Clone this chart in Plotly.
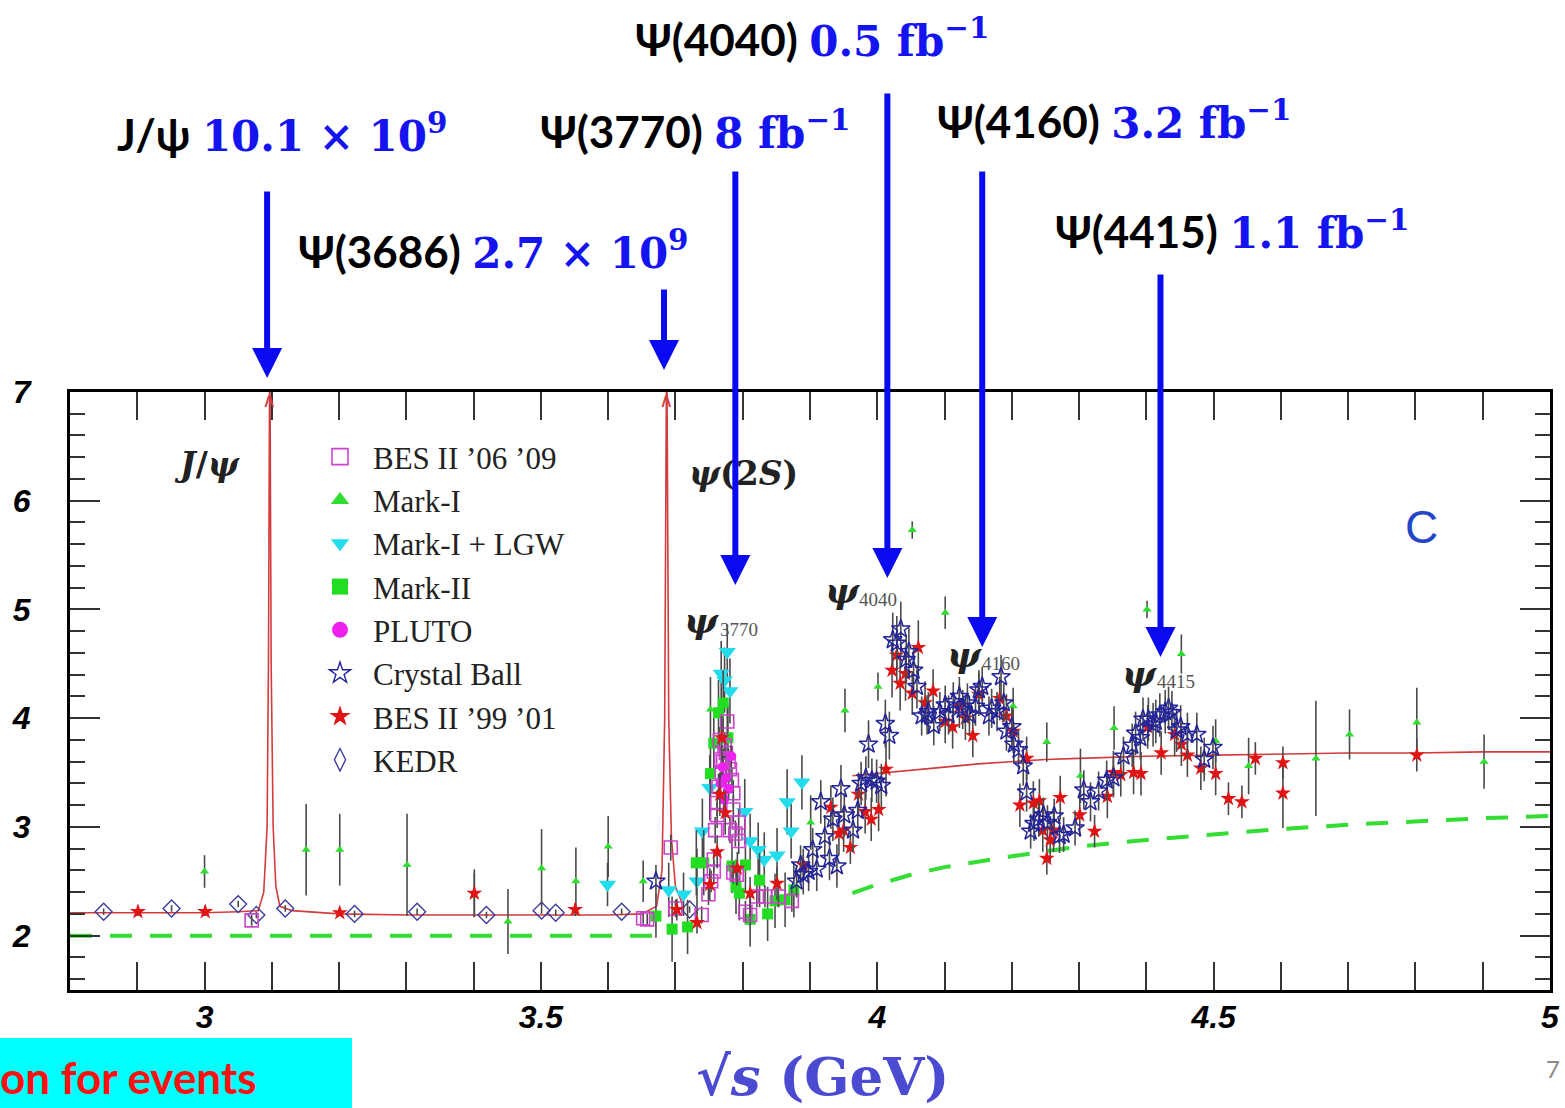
import plotly.graph_objects as go

# ---------------- data ----------------
X_RANGE = [2.8, 5.0]
Y_RANGE = [1.5, 7.0]

# solid red fit curve (None = gap); peaks run off the top of the frame
fit_x = [2.80, 2.90, 3.00, 3.05, 3.080, 3.088, 3.093, 3.095, 3.097, 3.099, 3.102, 3.106, 3.112, 3.13,
         3.20, 3.30, 3.40, 3.50, 3.60, 3.650, 3.672, 3.680, 3.684, 3.687, 3.690, 3.694, 3.700, 3.710,
         None,
         3.963, 4.00, 4.05, 4.10, 4.15, 4.20, 4.25, 4.30, 4.40, 4.50, 4.60, 4.70, 4.80, 4.90, 5.00]
fit_y = [2.21, 2.21, 2.21, 2.22, 2.23, 2.40, 3.00, 4.50, 7.60, 4.50, 3.00, 2.45, 2.27, 2.23,
         2.20, 2.19, 2.19, 2.19, 2.19, 2.20, 2.27, 2.60, 4.00, 7.60, 4.00, 2.90, 2.45, 2.30,
         None,
         3.47, 3.49, 3.52, 3.55, 3.58, 3.60, 3.62, 3.63, 3.65, 3.66, 3.67, 3.68, 3.68, 3.69, 3.69]
# resonances whose peak runs off scale (marked with a caret at the top)
offscale_x = [3.097, 3.687]

# dashed green continuum
bkg_x = [2.80, 3.673, None, 3.963, 4.00, 4.05, 4.10, 4.20, 4.30, 4.40, 4.50, 4.60, 4.70, 4.80, 4.90, 5.00]
bkg_y = [2.00, 2.00, None, 2.39, 2.47, 2.56, 2.63, 2.73, 2.82, 2.88, 2.93, 2.98, 3.02, 3.05, 3.08, 3.10]

# (sqrt(s) GeV, R, error)
bes_0609 = [(3.070, 2.14, 0.05), (3.652, 2.16, 0.05), (3.658, 2.15, 0.05), (3.693, 2.81, 0.12),
            (3.700, 2.25, 0.08), (3.739, 2.19, 0.08), (3.749, 2.38, 0.10), (3.753, 2.50, 0.10),
            (3.757, 2.59, 0.10), (3.757, 2.70, 0.10), (3.759, 2.97, 0.12), (3.762, 3.11, 0.12),
            (3.762, 3.22, 0.12), (3.764, 3.37, 0.12), (3.766, 3.80, 0.12), (3.768, 3.62, 0.12),
            (3.769, 3.50, 0.12), (3.771, 3.60, 0.12), (3.773, 3.75, 0.12), (3.775, 3.68, 0.12),
            (3.777, 3.97, 0.12), (3.779, 3.60, 0.12), (3.781, 3.53, 0.12), (3.781, 2.97, 0.12),
            (3.784, 3.43, 0.12), (3.786, 3.31, 0.12), (3.786, 3.16, 0.12), (3.786, 2.58, 0.10),
            (3.789, 2.94, 0.12), (3.791, 2.56, 0.10), (3.794, 3.04, 0.12), (3.794, 2.87, 0.12),
            (3.804, 2.22, 0.10), (3.811, 2.19, 0.10), (3.821, 2.36, 0.10), (3.833, 2.36, 0.10),
            (3.853, 2.36, 0.10), (3.873, 2.32, 0.10)]

mark1 = [(3.000, 2.59, 0.15), (3.151, 2.79, 0.42), (3.201, 2.79, 0.33), (3.301, 2.65, 0.47),
         (3.401, 2.37, 0.20), (3.451, 2.13, 0.30), (3.501, 2.62, 0.36), (3.552, 2.50, 0.31),
         (3.600, 2.82, 0.28), (3.652, 2.50, 0.19), (3.752, 4.08, 0.30), (3.901, 3.04, 0.25),
         (3.952, 4.07, 0.20), (4.001, 4.29, 0.13), (4.052, 5.73, 0.08), (4.101, 4.97, 0.15),
         (4.202, 4.11, 0.17), (4.252, 3.78, 0.18), (4.302, 3.47, 0.25), (4.352, 3.91, 0.20),
         (4.401, 5.00, 0.08), (4.452, 4.59, 0.18), (4.503, 3.79, 0.20), (4.552, 3.56, 0.26),
         (4.652, 3.63, 0.53), (4.702, 3.85, 0.23), (4.802, 3.96, 0.32), (4.902, 3.60, 0.25)]

mark1_lgw = [(3.599, 2.47, 0.20), (3.690, 2.42, 0.25), (3.712, 2.38, 0.20), (3.732, 2.50, 0.30),
             (3.740, 2.96, 0.30), (3.751, 3.36, 0.30), (3.768, 4.41, 0.30), (3.773, 4.35, 0.30),
             (3.777, 4.61, 0.25), (3.781, 4.25, 0.30), (3.803, 3.14, 0.30), (3.811, 2.87, 0.25),
             (3.823, 2.79, 0.25), (3.832, 2.70, 0.25), (3.851, 2.74, 0.25), (3.866, 3.23, 0.30),
             (3.872, 2.96, 0.25), (3.888, 3.41, 0.25)]

mark2 = [(3.671, 2.18, 0.20), (3.695, 2.06, 0.30), (3.718, 2.08, 0.25), (3.731, 2.67, 0.30),
         (3.742, 2.67, 0.30), (3.752, 3.49, 0.30), (3.757, 3.77, 0.30), (3.764, 4.05, 0.30),
         (3.771, 4.14, 0.30), (3.778, 3.82, 0.30), (3.784, 2.64, 0.25), (3.790, 2.45, 0.25),
         (3.795, 2.39, 0.25), (3.804, 2.65, 0.25), (3.811, 2.15, 0.25), (3.825, 2.51, 0.25),
         (3.837, 2.20, 0.25), (3.848, 2.32, 0.25), (3.863, 2.33, 0.25), (3.876, 2.42, 0.25)]

pluto = [(3.767, 3.40, 0.10), (3.770, 3.55, 0.10), (3.772, 3.25, 0.10), (3.775, 3.45, 0.10),
         (3.779, 3.35, 0.10), (3.783, 3.65, 0.10)]

crystal_ball = [(3.671, 2.50, 0.15), (3.880, 2.50, 0.15), (3.886, 2.65, 0.18), (3.890, 2.56, 0.18),
                (3.898, 2.59, 0.18), (3.904, 2.79, 0.20), (3.910, 2.61, 0.20), (3.916, 3.23, 0.20),
                (3.922, 2.91, 0.20), (3.929, 2.71, 0.20), (3.934, 3.07, 0.20), (3.940, 2.64, 0.20),
                (3.946, 3.35, 0.22), (3.951, 3.11, 0.20), (3.964, 2.97, 0.20), (3.971, 3.15, 0.20),
                (3.976, 3.40, 0.20), (3.983, 3.45, 0.20), (3.987, 3.76, 0.22), (3.992, 3.43, 0.20),
                (3.999, 3.42, 0.20), (4.006, 3.38, 0.20), (4.012, 3.95, 0.22), (4.018, 3.84, 0.22),
                (4.023, 4.72, 0.25), (4.029, 4.69, 0.25), (4.035, 4.82, 0.25), (4.043, 4.54, 0.22),
                (4.047, 4.61, 0.22), (4.054, 4.44, 0.22), (4.059, 4.29, 0.20), (4.066, 4.02, 0.18),
                (4.074, 4.03, 0.18), (4.076, 4.06, 0.18), (4.084, 3.93, 0.18), (4.093, 4.06, 0.18),
                (4.101, 4.12, 0.18), (4.106, 4.03, 0.18), (4.113, 4.15, 0.18), (4.122, 4.20, 0.18),
                (4.127, 4.08, 0.18), (4.134, 4.14, 0.18), (4.137, 4.03, 0.18), (4.146, 4.11, 0.18),
                (4.151, 4.26, 0.18), (4.156, 4.29, 0.18), (4.166, 4.02, 0.18), (4.170, 4.09, 0.18),
                (4.178, 4.06, 0.18), (4.184, 4.38, 0.20), (4.188, 4.14, 0.18), (4.192, 3.88, 0.18),
                (4.200, 3.92, 0.18), (4.203, 3.76, 0.18), (4.210, 3.71, 0.18), (4.217, 3.56, 0.18),
                (4.222, 3.32, 0.18), (4.228, 2.96, 0.16), (4.233, 3.03, 0.16), (4.240, 3.07, 0.16),
                (4.247, 3.11, 0.16), (4.253, 3.04, 0.16), (4.263, 3.10, 0.16), (4.271, 2.92, 0.16),
                (4.277, 2.93, 0.16), (4.294, 2.99, 0.16), (4.307, 3.34, 0.18), (4.317, 3.23, 0.18),
                (4.329, 3.33, 0.18), (4.341, 3.43, 0.18), (4.351, 3.45, 0.18), (4.366, 3.65, 0.18),
                (4.379, 3.75, 0.20), (4.384, 3.86, 0.20), (4.391, 3.82, 0.20), (4.395, 3.99, 0.20),
                (4.403, 3.99, 0.20), (4.410, 3.94, 0.20), (4.414, 3.97, 0.20), (4.420, 4.03, 0.20),
                (4.428, 4.06, 0.20), (4.433, 4.09, 0.20), (4.438, 4.05, 0.20), (4.445, 3.89, 0.20),
                (4.451, 3.92, 0.20), (4.461, 3.85, 0.20), (4.475, 3.85, 0.20), (4.486, 3.62, 0.20),
                (4.499, 3.73, 0.20)]

bes_9901 = [(2.901, 2.22, 0.04), (3.001, 2.22, 0.04), (3.201, 2.21, 0.03), (3.401, 2.39, 0.22),
            (3.551, 2.24, 0.06), (3.702, 2.24, 0.10), (3.732, 2.12, 0.10), (3.751, 2.47, 0.15),
            (3.762, 2.77, 0.15), (3.766, 3.30, 0.20), (3.769, 3.82, 0.20), (3.774, 3.13, 0.20),
            (3.792, 2.62, 0.15), (3.811, 2.39, 0.15), (3.851, 2.48, 0.15), (3.890, 2.65, 0.15),
            (3.931, 3.18, 0.20), (3.943, 2.94, 0.20), (3.950, 2.97, 0.20), (3.960, 2.81, 0.15),
            (3.972, 3.30, 0.20), (3.982, 3.14, 0.20), (3.991, 3.07, 0.20), (4.002, 3.16, 0.20),
            (4.013, 3.53, 0.25), (4.022, 4.44, 0.25), (4.029, 4.58, 0.25), (4.034, 4.32, 0.25),
            (4.042, 4.41, 0.25), (4.052, 4.23, 0.20), (4.061, 4.65, 0.25), (4.071, 4.14, 0.20),
            (4.083, 4.25, 0.20), (4.101, 3.97, 0.20), (4.112, 3.92, 0.20), (4.122, 4.11, 0.20),
            (4.131, 4.00, 0.20), (4.142, 3.84, 0.20), (4.151, 4.22, 0.20), (4.182, 4.18, 0.20),
            (4.192, 4.02, 0.20), (4.202, 3.88, 0.20), (4.212, 3.20, 0.20), (4.222, 3.63, 0.20),
            (4.232, 3.22, 0.20), (4.241, 3.24, 0.20), (4.246, 2.97, 0.20), (4.252, 2.71, 0.15),
            (4.257, 2.88, 0.20), (4.262, 2.97, 0.20), (4.272, 3.27, 0.20), (4.301, 3.11, 0.20),
            (4.323, 2.96, 0.15), (4.342, 3.28, 0.20), (4.351, 3.50, 0.20), (4.362, 3.48, 0.20),
            (4.381, 3.50, 0.20), (4.392, 3.49, 0.20), (4.402, 3.92, 0.20), (4.422, 3.68, 0.20),
            (4.442, 3.85, 0.20), (4.452, 3.76, 0.20), (4.461, 3.66, 0.20), (4.481, 3.54, 0.20),
            (4.503, 3.49, 0.20), (4.522, 3.26, 0.15), (4.542, 3.23, 0.15), (4.562, 3.63, 0.15),
            (4.603, 3.31, 0.32), (4.603, 3.59, 0.15), (4.802, 3.66, 0.15)]

kedr = [(2.850, 2.22, 0.03), (2.951, 2.25, 0.03), (3.050, 2.29, 0.03), (3.077, 2.19, 0.03),
        (3.120, 2.25, 0.03), (3.223, 2.20, 0.03), (3.316, 2.22, 0.03), (3.419, 2.19, 0.03),
        (3.501, 2.23, 0.03), (3.522, 2.21, 0.03), (3.620, 2.22, 0.03), (3.721, 2.24, 0.03)]

legend_names = ["BES II ’06 ’09", "Mark-I", "Mark-I + LGW", "Mark-II", "PLUTO",
                "Crystal Ball", "BES II ’99 ’01", "KEDR"]

x_tick_vals = [3, 3.5, 4, 4.5, 5]
x_tick_text = ["3", "3.5", "4", "4.5", "5"]
y_tick_vals = [2, 3, 4, 5, 6, 7]
y_tick_text = ["2", "3", "4", "5", "6", "7"]

# resonance labels: (name, sample size, arrow x in GeV)
samples = [("J/ψ", "10.1 × 10<sup>9</sup>", 3.093),
           ("Ψ(3686)", "2.7 × 10<sup>9</sup>", 3.683),
           ("Ψ(3770)", "8 fb<sup>−1</sup>", 3.789),
           ("Ψ(4040)", "0.5 fb<sup>−1</sup>", 4.015),
           ("Ψ(4160)", "3.2 fb<sup>−1</sup>", 4.156),
           ("Ψ(4415)", "1.1 fb<sup>−1</sup>", 4.421)]

# ---------------- layout geometry (pixels) ----------------
W, H = 1565, 1108
L, R, T, B = 70, 1550, 392, 990


def pxx(xp):
    return (xp - L) / (R - L)


def pxy(yp):
    return (B - yp) / (B - T)


def cols(pts):
    return [p[0] for p in pts], [p[1] for p in pts], [p[2] for p in pts]


ERR = dict(type="data", color="#4a4a4a", thickness=1.6, width=0)

styles = {
    "BES II ’06 ’09": dict(symbol="square-open", color="#cc44cc", size=13, line=dict(width=1.6, color="#cc44cc")),
    "Mark-I": dict(symbol="triangle-up", color="#2fdc2f", size=8, line=dict(width=0)),
    "Mark-I + LGW": dict(symbol="triangle-down", color="#22dcec", size=15, line=dict(width=0)),
    "Mark-II": dict(symbol="square", color="#22dd22", size=11, line=dict(width=0)),
    "PLUTO": dict(symbol="circle", color="#ee22ee", size=10, line=dict(width=0)),
    "Crystal Ball": dict(symbol="star-open", color="#24249a", size=14, line=dict(width=1.5, color="#24249a")),
    "BES II ’99 ’01": dict(symbol="star", color="#e01414", size=12, line=dict(width=0)),
    "KEDR": dict(symbol="diamond-open", color="#3c3c9c", size=13, line=dict(width=1.4, color="#3c3c9c")),
}
legend_styles = {
    "BES II ’06 ’09": dict(symbol="square-open", color="#cc44cc", size=17, line=dict(width=1.6, color="#cc44cc")),
    "Mark-I": dict(symbol="triangle-up", color="#2fdc2f", size=17, line=dict(width=0)),
    "Mark-I + LGW": dict(symbol="triangle-down", color="#22dcec", size=17, line=dict(width=0)),
    "Mark-II": dict(symbol="square", color="#22dd22", size=16, line=dict(width=0)),
    "PLUTO": dict(symbol="circle", color="#ee22ee", size=17, line=dict(width=0)),
    "Crystal Ball": dict(symbol="star-open", color="#24249a", size=17, line=dict(width=1.4, color="#24249a")),
    "BES II ’99 ’01": dict(symbol="star", color="#e01414", size=17, line=dict(width=0)),
    "KEDR": dict(symbol="diamond-tall-open", color="#3c3c9c", size=17, line=dict(width=1.4, color="#3c3c9c")),
}

fig = go.Figure()

# curves
fig.add_trace(go.Scatter(x=bkg_x, y=bkg_y, mode="lines", showlegend=False, hoverinfo="skip",
                         line=dict(color="#33dd33", width=4, dash="22px,18px")))
fig.add_trace(go.Scatter(x=fit_x, y=fit_y, mode="lines", showlegend=False, hoverinfo="skip",
                         line=dict(color="#d23c3c", width=1.6)))

series = [("KEDR", kedr), ("Mark-I", mark1), ("Mark-I + LGW", mark1_lgw), ("Mark-II", mark2),
          ("BES II ’06 ’09", bes_0609), ("PLUTO", pluto), ("BES II ’99 ’01", bes_9901),
          ("Crystal Ball", crystal_ball)]
for name, pts in series:
    xs, ys, es = cols(pts)
    fig.add_trace(go.Scatter(x=xs, y=ys, mode="markers", name=name, showlegend=False,
                             marker=styles[name], error_y=dict(array=es, **ERR)))

# legend entries
for i, name in enumerate(legend_names):
    fig.add_trace(go.Scatter(x=[None], y=[None], mode="markers", name=name, legendgroup=str(i),
                             marker=legend_styles[name]))

ann = []
shapes = []

# carets marking off-scale peaks
for xo in offscale_x:
    ann.append(dict(xref="x", yref="paper", x=xo, y=pxy(386), xanchor="center", yanchor="top",
                    showarrow=False, text="∧", font=dict(family="DejaVu Sans", size=20, color="#d23c3c")))

# top labels with blue arrows
label_pos = [(115, 133), (296, 250), (538, 130), (633, 38), (935, 120), (1053, 230)]
arrow_pos = [(190, 378), (288, 370), (170, 585), (92, 578), (170, 647), (273, 657)]
for (name, size, xa), (lx, ly) in zip(samples, label_pos):
    ann.append(dict(xref="paper", yref="paper", x=pxx(lx), y=pxy(ly), xanchor="left", yanchor="middle",
                    showarrow=False,
                    text=("<b>" + name + "</b> <span style='font-family:DejaVu Serif;color:#1414f0;"
                          "font-weight:bold;font-size:42px'>" + size + "</span>"),
                    font=dict(family="Lato", size=44, color="black")))

# in-frame labels
serif = "DejaVu Serif"
inner = [((207, 464), "<b><i>J</i>/<i>ψ</i></b>", 33, "#222"),
         ((743, 473), "<b><i>ψ</i>(2<i>S</i>)</b>", 33, "#222"),
         ((701, 620), "<b><i>ψ</i></b>", 36, "#222"),
         ((842, 590), "<b><i>ψ</i></b>", 36, "#222"),
         ((964, 654), "<b><i>ψ</i></b>", 36, "#222"),
         ((1139, 673), "<b><i>ψ</i></b>", 36, "#222")]
for (cx, cy), txt, fs, col in inner:
    ann.append(dict(xref="paper", yref="paper", x=pxx(cx), y=pxy(cy), xanchor="center", yanchor="middle",
                    showarrow=False, text=txt, font=dict(family=serif, size=fs, color=col)))
subs = [((718, 629), "3770"), ((857, 599), "4040"), ((980, 663), "4160"), ((1155, 681), "4415")]
for (lx, cy), txt in subs:
    ann.append(dict(xref="paper", yref="paper", x=pxx(lx), y=pxy(cy), xanchor="left", yanchor="middle",
                    showarrow=False, text=txt, font=dict(family="Liberation Serif", size=19, color="#555")))
ann.append(dict(xref="paper", yref="paper", x=pxx(1421), y=pxy(527), xanchor="center", yanchor="middle",
                showarrow=False, text="C", font=dict(family="Liberation Sans", size=46, color="#2445c8")))

for (name, size, xa), (tail, tip) in zip(samples, arrow_pos):
    ann.append(dict(xref="x", yref="paper", x=xa, y=pxy(tip), ax=0, ay=tail - tip, text="",
                    showarrow=True, arrowhead=2, arrowsize=1, arrowwidth=6, arrowcolor="#0a0af0",
                    standoff=0, startstandoff=0))

# axis title
ann.append(dict(xref="paper", yref="paper", x=pxx(822), y=pxy(1076), xanchor="center", yanchor="middle",
                showarrow=False, text="<b>√<i>s</i> (GeV)</b>",
                font=dict(family="DejaVu Serif", size=53, color="#4b4bd2")))

# bottom-left banner and page number
shapes.append(dict(type="rect", xref="paper", yref="paper", x0=pxx(0), x1=pxx(352), y0=pxy(1108), y1=pxy(1038),
                   fillcolor="#00ffff", line=dict(width=0), layer="above"))
ann.append(dict(xref="paper", yref="paper", x=pxx(-2), y=pxy(1077), xanchor="left", yanchor="middle",
                showarrow=False, text="<b>on for events</b>", font=dict(family="Lato", size=44, color="#ff1010")))
ann.append(dict(xref="paper", yref="paper", x=pxx(1553), y=pxy(1068), xanchor="center", yanchor="middle",
                showarrow=False, text="7", font=dict(family="Lato", size=24, color="#8a8a8a")))

tickfont = dict(family="Liberation Sans Narrow, Liberation Sans", size=32, color="black",
                weight="bold", style="italic")

fig.update_layout(
    width=W, height=H, margin=dict(l=L, r=W - R, t=T, b=H - B, pad=0, autoexpand=False),
    paper_bgcolor="white", plot_bgcolor="white",
    annotations=ann, shapes=shapes,
    legend=dict(x=pxx(307), y=pxy(430), xanchor="left", yanchor="top", bgcolor="rgba(0,0,0,0)",
                font=dict(family="Liberation Serif", size=31, color="#222"),
                itemwidth=56, tracegroupgap=0, traceorder="grouped"),
    xaxis=dict(range=X_RANGE, showgrid=False, zeroline=False, showline=True, linewidth=3, linecolor="black",
               mirror="ticks", ticks="inside", ticklen=28, tickwidth=1.5, tickcolor="#333",
               tickmode="array", tickvals=x_tick_vals, ticktext=x_tick_text, tickfont=tickfont,
               ticklabelstandoff=-3, automargin=False,
               minor=dict(dtick=0.1, tick0=2.8, ticks="inside", ticklen=28, tickwidth=1.5, tickcolor="#333",
                          showgrid=False)),
    yaxis=dict(range=Y_RANGE, showgrid=False, zeroline=False, showline=True, linewidth=3, linecolor="black",
               mirror="ticks", ticks="inside", ticklen=30, tickwidth=1.5, tickcolor="#333",
               tickmode="array", tickvals=y_tick_vals, ticktext=y_tick_text, tickfont=tickfont,
               ticklabelstandoff=30, automargin=False,
               minor=dict(dtick=0.2, tick0=1.6, ticks="inside", ticklen=15, tickwidth=1.5, tickcolor="#333",
                          showgrid=False)),
)

fig.write_html("out.html")
